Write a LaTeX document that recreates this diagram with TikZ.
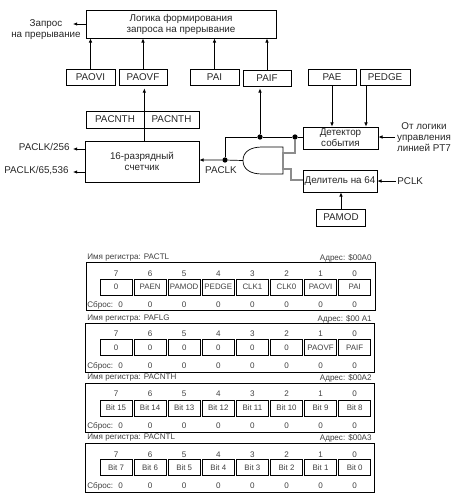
\documentclass[tikz,border=0pt]{standalone}
\usepackage{fontspec}
\setmainfont{Liberation Sans}
\usetikzlibrary{arrows.meta}
\usetikzlibrary{calc}
\tikzset{> = {Latex[length=2.4pt,width=2pt]}, line width=.55pt}
\tikzset{wh/.style 2 args={minimum width=(#1)*.02cm, minimum height=(#2)*.02cm},
	box/.style={draw, inner sep=0pt, font=\fontsize{5.6}{6.3}\selectfont, text=black!85, align=center},
	lbl/.style={inner sep=0pt, font=\fontsize{5.6}{6.3}\selectfont, text=black!85, align=center},
	reg/.style={inner sep=0pt, font=\fontsize{4.6}{5}\selectfont, text=black!75},
	cell/.style={draw, inner sep=0pt, wh={32}{16}, font=\fontsize{4.5}{5}\selectfont, text=black!75},
	dot/.style={circle, fill=black, inner sep=0pt, minimum size=3pt},
	gatewire/.style={draw=black!45, line width=.8pt}}
\begin{document}
\begin{tikzpicture}[x=.02cm, y=-.02cm]
	\useasboundingbox (0,0) rectangle (453,495);
	\node[box, wh={190}{28}] (logic) at (181,24) {Логика формирования\\запроса на прерывание};
	\node[box, wh={49}{16}] (paovi) at (90.5,77) {PAOVI};
	\node[box, wh={48}{16}] (paovf) at (143,77) {PAOVF};
	\node[box, wh={49}{16}] (pai) at (214.5,77) {PAI};
	\node[box, wh={48}{16}] (paif) at (267,78) {PAIF};
	\node[box, wh={48}{16}] (pae) at (332,77) {PAE};
	\node[box, wh={50}{16}] (pedge) at (385,77) {PEDGE};
	\node[box, wh={58}{17}] (cnth) at (115,119.5) {PACNTH};
	\node[box, wh={55}{17}] (cntl) at (171.5,119.5) {PACNTH};
	\node[box, wh={114}{41}] (counter) at (142,161.5) {16-разрядный\\счетчик};
	\node[box, wh={75}{22}] (detector) at (340.5,138) {Детектор\\события};
	\node[box, wh={74}{22}] (divider) at (340,181) {Делитель на 64};
	\node[box, wh={49}{17}] (pamod) at (341,217.5) {PAMOD};
	\node[lbl] (request) at (46,29.5) {Запрос\\на прерывание};
	\node[lbl] (trig) at (424,137) {От логики\\управления\\линией PT7};
	\node[lbl, anchor=west] (pclk) at (397,181) {PCLK};
	\node[lbl] (paclk) at (221,170.5) {PACLK};
	\node[lbl, anchor=east] (div256) at (70,147) {PACLK/256};
	\node[lbl, anchor=east] (div65536) at (69,171) {PACLK/65,536};
	\node[dot] (clkdot) at (225,160) {};
	\node[dot] (midot) at (260,137) {};
	\node[dot] (detdot) at (295,137) {};
	\coordinate (reqend) at (73,24);
	\coordinate (trigstart) at (395,137);
	\coordinate (pclkstart) at (396,181);
	\coordinate (end256) at (73,149);
	\coordinate (end65536) at (73,172);
	\coordinate (gateout) at (243,160.5);
	\coordinate (gatein1) at (283,153);
	\coordinate (gatein2) at (283,169);
	\draw[->] (logic.west|-reqend) -- (reqend);
	\foreach \src in {paovi,paovf,pai,paif}
		\draw[->] (\src.north) -- (logic.south-|\src.north);
	\draw[->] (counter.north-|cnth.east) -- ($(paovf.south-|cnth.east)+(0,3)$);
	\draw[->] (midot) -- ($(paif.south)+(-7,2)$);
	\draw[->] (pae.south) -- (detector.north-|pae.south);
	\draw[->] ($(pedge.south)+(-19,0)$) -- (detector.north-|366,0);
	\draw[->] (trigstart) -- (detector.east|-trigstart);
	\draw[->] (pclkstart) -- (divider.east|-pclkstart);
	\draw[->] (pamod.north) -- (divider.south-|pamod.north);
	\draw[->] (counter.west|-end256) -- (end256);
	\draw[->] (counter.west|-end65536) -- (end65536);
	\draw[->] (gateout) -- (clkdot) -- (counter.east|-clkdot);
	\draw (clkdot) |- (midot) -- (detdot) -- (detector.west|-detdot);
	\draw (gatein1) ++(0,-6) -- ++(-21,0) .. controls (250,147) and (243,152) .. (gateout) .. controls (243,169) and (250,174) .. (262,174) -- (283,174) -- cycle;
	\draw[gatewire] (detdot) |- (gatein1) -- (gatein2) -| (291,180) -- (divider.west|-0,180);
	\foreach \rname/\rtitle/\raddr/\rleft/\rtop/\rbot/\rtitley/\rnumy/\rcelly/\rrsty/\rbits in {
		a/PACTL/\$00A0/86/262/310/258/274/287/305/{0,PAEN,PAMOD,PEDGE,CLK1,CLK0,PAOVI,PAI},
		b/PAFLG/\$00 A1/85/323/372/319/334/347.5/366/{0,0,0,0,0,0,PAOVF,PAIF},
		c/PACNTH/\$00A2/85/383/432/378/394/408/426/{Bit 15,Bit 14,Bit 13,Bit 12,Bit 11,Bit 10,Bit 9,Bit 8},
		d/PACNTL/\$00A3/85/443/492/438/455/467.5/486/{Bit 7,Bit 6,Bit 5,Bit 4,Bit 3,Bit 2,Bit 1,Bit 0}}{
		\node[reg, anchor=west] (title\rname) at (87,\rtitley) {Имя регистра: \rtitle};
		\node[reg, anchor=east] (addr\rname) at (372,\rtitley) {Адрес: \raddr};
		\node[draw, inner sep=0pt, anchor=north west, wh={289}{\rbot-\rtop}] (frame\rname) at (\rleft,\rtop) {};
		\node[reg, anchor=west] (reset\rname) at (87,\rrsty) {Сброс:\hspace{3pt}0};
		\foreach \bitlabel [count=\k] in \rbits {
			\pgfmathtruncatemacro{\bitno}{8-\k}
			\node[cell] (cell\rname\k) at (116+\k*34.1-34.1,\rcelly) {\bitlabel};
			\node[reg] (num\rname\k) at (116+\k*34.1-34.1,\rnumy) {\bitno};
		}
		\foreach \k in {2,...,8}
			\node[reg] (rst\rname\k) at (116+\k*34.1-34.1,\rrsty) {0};
	}
\end{tikzpicture}
\end{document}
